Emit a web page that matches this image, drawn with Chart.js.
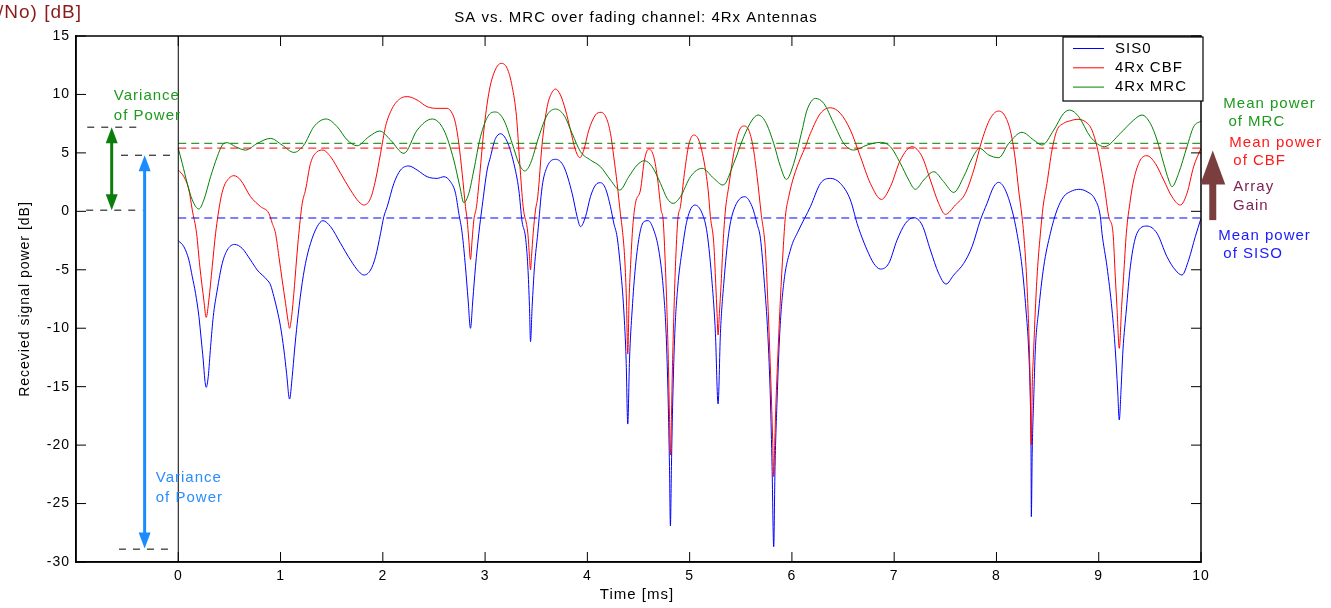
<!DOCTYPE html>
<html>
<head>
<meta charset="utf-8">
<script src="https://cdn.jsdelivr.net/npm/chart.js@4.4.1/dist/chart.umd.min.js"></script>
<style>
    html, body { margin: 0; padding: 0; background: #fff; }
</style>
</head>
<body>
<canvas id="myChart" width="1331" height="608"></canvas>
<script>
"use strict";

const FONT = '"Liberation Sans", Arial, Helvetica, sans-serif'

// [time ms, power dB]
const sisoPoints = [
    [0, -2.51], [0.055, -3.03], [0.104, -4.17], [0.137, -5.59], [0.169, -7.02], [0.202, -9.01], [0.225, -11.01],
    [0.244, -12.72], [0.26, -14.43], [0.273, -15.06], [0.293, -14.15], [0.316, -11.58], [0.342, -9.01], [0.381, -6.73],
    [0.43, -4.45], [0.479, -3.31], [0.55, -2.83], [0.625, -3.17], [0.707, -4.17], [0.772, -5.02], [0.87, -5.88],
    [0.902, -6.3], [0.935, -7.3], [0.967, -8.44], [1.0, -9.87], [1.033, -11.86], [1.059, -13.86], [1.088, -16.06],
    [1.114, -14.15], [1.137, -11.86], [1.163, -9.58], [1.202, -6.73], [1.244, -4.45], [1.293, -2.74], [1.358, -1.31],
    [1.414, -0.8], [1.489, -1.31], [1.587, -2.74], [1.684, -4.17], [1.766, -5.16], [1.815, -5.45], [1.88, -5.02],
    [1.929, -3.88], [1.978, -1.88], [2.01, -0.46], [2.043, 0.4], [2.108, 2.39], [2.173, 3.53], [2.254, 3.88],
    [2.336, 3.53], [2.434, 2.96], [2.531, 2.82], [2.597, 2.96], [2.662, 2.53], [2.711, 1.54], [2.743, -0.17],
    [2.776, -1.88], [2.808, -4.74], [2.834, -7.59], [2.857, -10.01], [2.88, -7.59], [2.906, -4.74], [2.939, -1.88],
    [2.971, 0.4], [3.02, 3.53], [3.053, 4.67], [3.085, 5.81], [3.102, 6.24], [3.15, 6.64], [3.216, 5.96],
    [3.281, 4.1], [3.33, 1.82], [3.362, -0.9], [3.395, -2.2], [3.418, -4.74], [3.434, -8.16], [3.444, -11.15],
    [3.46, -8.16], [3.483, -4.74], [3.515, -1.88], [3.558, 2.11], [3.607, 3.82], [3.688, 4.45], [3.77, 3.82],
    [3.851, 1.54], [3.9, -0.46], [3.933, -1.31], [3.982, -0.46], [4.03, 1.25], [4.08, 2.25], [4.128, 2.45],
    [4.177, 1.96], [4.226, 0.4], [4.258, -1.0], [4.291, -2.2], [4.323, -4.74], [4.356, -8.44], [4.379, -12.72],
    [4.395, -18.2], [4.412, -12.72], [4.438, -8.44], [4.47, -4.74], [4.513, -1.88], [4.552, -0.89], [4.594, -0.8],
    [4.649, -1.6], [4.698, -3.31], [4.741, -6.45], [4.77, -10.44], [4.79, -16.14], [4.803, -21.84], [4.812, -26.92],
    [4.822, -21.84], [4.835, -16.14], [4.855, -10.44], [4.884, -6.45], [4.927, -3.31], [4.975, -0.74], [5.05, 0.54],
    [5.122, -0.17], [5.171, -1.88], [5.22, -6.16], [5.252, -10.44], [5.278, -16.48], [5.301, -10.44], [5.334, -6.16],
    [5.382, -1.88], [5.431, 0.11], [5.539, 1.25], [5.611, 0.4], [5.66, -1.1], [5.692, -2.3], [5.731, -6.16],
    [5.764, -10.44], [5.79, -16.14], [5.806, -21.84], [5.822, -28.69], [5.835, -21.84], [5.855, -16.14], [5.881, -10.44],
    [5.92, -6.16], [5.985, -3.31], [6.067, -1.6], [6.181, 0.4], [6.279, 2.39], [6.376, 2.82], [6.474, 2.39],
    [6.572, 0.97], [6.637, -1.03], [6.67, -1.88], [6.735, -3.31], [6.8, -4.45], [6.865, -4.94], [6.947, -4.45],
    [7.028, -2.46], [7.11, -1.03], [7.191, -0.54], [7.273, -1.17], [7.354, -3.31], [7.435, -5.31], [7.507, -6.22],
    [7.582, -5.45], [7.68, -4.45], [7.761, -3.03], [7.843, -0.74], [7.908, 0.68], [7.973, 2.11], [8.022, 2.48],
    [8.087, 1.82], [8.152, 0.11], [8.201, -1.88], [8.25, -4.74], [8.289, -8.44], [8.315, -11.86], [8.331, -16.14],
    [8.338, -20.42], [8.341, -26.12], [8.35, -20.42], [8.364, -16.14], [8.38, -11.86], [8.413, -8.44], [8.462, -4.74],
    [8.527, -1.88], [8.592, 0.11], [8.657, 1.25], [8.722, 1.68], [8.804, 1.88], [8.885, 1.68], [8.967, 0.97],
    [9.016, -0.46], [9.032, -1.88], [9.081, -4.74], [9.13, -8.44], [9.162, -11.86], [9.185, -15.29], [9.201, -17.85],
    [9.218, -15.29], [9.237, -11.86], [9.27, -8.44], [9.309, -4.74], [9.374, -1.88], [9.472, -1.26], [9.57, -1.88],
    [9.667, -3.88], [9.749, -5.02], [9.814, -5.45], [9.879, -4.17], [9.944, -2.17], [10, -0.6]
]

const cbfPoints = [
    [0, 3.53], [0.055, 2.96], [0.104, 1.82], [0.137, 0.11], [0.179, -1.88], [0.211, -4.74], [0.25, -7.59],
    [0.273, -9.07], [0.299, -7.59], [0.332, -4.74], [0.365, -1.88], [0.413, 0.97], [0.446, 2.11], [0.495, 2.82],
    [0.544, 3.05], [0.609, 2.68], [0.707, 1.25], [0.805, 0.4], [0.886, -0.17], [0.919, -1.03], [0.951, -1.88],
    [0.984, -3.88], [1.016, -5.88], [1.049, -7.87], [1.072, -9.3], [1.088, -10.01], [1.104, -9.3], [1.13, -7.02],
    [1.156, -4.17], [1.179, -1.88], [1.212, 0.68], [1.244, 1.82], [1.293, 4.1], [1.358, 5.1], [1.414, 5.24],
    [1.489, 4.67], [1.587, 3.25], [1.684, 1.82], [1.766, 0.82], [1.815, 0.54], [1.88, 1.11], [1.929, 2.68],
    [1.978, 4.96], [2.026, 7.24], [2.092, 8.81], [2.173, 9.66], [2.245, 9.81], [2.336, 9.52], [2.434, 8.95],
    [2.531, 8.81], [2.629, 8.81], [2.678, 8.38], [2.711, 7.53], [2.743, 5.81], [2.776, 3.25], [2.808, 0.4],
    [2.825, -0.74], [2.841, -2.46], [2.857, -4.11], [2.873, -2.46], [2.89, -0.74], [2.916, 0.4], [2.949, 3.25],
    [2.988, 6.95], [3.036, 10.09], [3.085, 11.8], [3.157, 12.66], [3.216, 12.23], [3.265, 10.66], [3.307, 8.1],
    [3.339, 4.1], [3.372, 0.4], [3.418, -1.88], [3.434, -3.88], [3.444, -5.02], [3.454, -3.88], [3.47, -1.88],
    [3.493, 0.11], [3.515, 1.25], [3.558, 5.81], [3.607, 8.95], [3.649, 10.09], [3.688, 10.46], [3.737, 9.95],
    [3.786, 8.67], [3.835, 6.95], [3.884, 5.24], [3.926, 4.59], [3.965, 5.24], [4.014, 6.95], [4.079, 8.24],
    [4.135, 8.47], [4.187, 7.95], [4.226, 6.67], [4.258, 4.67], [4.291, 2.39], [4.323, -0.2], [4.345, -1.8],
    [4.366, -4.17], [4.382, -7.59], [4.395, -12.21], [4.408, -7.59], [4.425, -4.17], [4.444, -1.31], [4.47, 0.68],
    [4.519, 1.82], [4.558, 4.39], [4.6, 5.33], [4.649, 4.67], [4.688, 2.68], [4.721, 0.11], [4.741, -0.74],
    [4.763, -4.74], [4.78, -9.01], [4.793, -13.29], [4.803, -17.57], [4.812, -20.85], [4.822, -17.57], [4.832, -13.29],
    [4.845, -9.01], [4.861, -4.74], [4.884, -0.74], [4.91, 0.4], [4.949, 3.25], [4.991, 5.67], [5.04, 6.53],
    [5.089, 6.1], [5.138, 4.39], [5.181, 1.82], [5.203, -0.46], [5.236, -2.74], [5.255, -6.16], [5.268, -8.73],
    [5.278, -10.58], [5.291, -8.73], [5.308, -6.16], [5.327, -2.74], [5.35, 0.11], [5.382, 2.11], [5.431, 4.96],
    [5.48, 6.81], [5.529, 7.3], [5.578, 6.95], [5.62, 5.53], [5.66, 2.96], [5.699, -0.17], [5.741, -3.31],
    [5.764, -7.59], [5.783, -11.86], [5.8, -16.14], [5.813, -19.85], [5.822, -22.7], [5.832, -19.85], [5.845, -16.14],
    [5.865, -11.86], [5.887, -7.59], [5.914, -3.31], [5.936, -0.46], [5.969, 1.25], [6.018, 2.96], [6.083, 4.53],
    [6.132, 5.53], [6.181, 6.67], [6.279, 8.38], [6.376, 8.86], [6.474, 8.38], [6.572, 6.95], [6.67, 4.67],
    [6.767, 2.39], [6.875, 1.02], [6.963, 2.11], [7.061, 4.39], [7.175, 5.53], [7.273, 4.67], [7.354, 2.68],
    [7.435, 0.68], [7.5, -0.26], [7.598, 0.54], [7.696, 1.54], [7.778, 3.53], [7.859, 6.1], [7.94, 7.95],
    [8.022, 8.58], [8.087, 8.1], [8.142, 6.67], [8.185, 4.39], [8.217, 1.82], [8.25, -0.46], [8.266, -1.88],
    [8.289, -4.74], [8.309, -8.44], [8.322, -11.86], [8.331, -15.0], [8.341, -19.99], [8.35, -15.0], [8.364, -11.86],
    [8.38, -8.44], [8.403, -4.74], [8.43, -1.88], [8.456, 0.4], [8.494, 2.39], [8.543, 5.24], [8.592, 6.95],
    [8.657, 7.53], [8.722, 7.75], [8.787, 7.87], [8.869, 7.67], [8.934, 6.95], [8.983, 5.53], [9.016, 4.1],
    [9.055, 2.11], [9.098, -0.46], [9.14, -1.88], [9.162, -5.59], [9.178, -8.16], [9.201, -11.72], [9.224, -8.16],
    [9.243, -5.59], [9.27, -1.88], [9.309, 0.97], [9.342, 2.68], [9.407, 4.39], [9.472, 4.76], [9.553, 4.1],
    [9.635, 2.68], [9.716, 1.25], [9.798, 0.54], [9.863, 1.54], [9.928, 3.82], [10, 5.39]
]

const mrcPoints = [
    [0, 5.39], [0.039, 4.1], [0.088, 2.39], [0.137, 0.97], [0.202, 0.2], [0.25, 0.97], [0.316, 2.96],
    [0.381, 4.67], [0.43, 5.67], [0.479, 5.87], [0.56, 5.53], [0.658, 5.24], [0.772, 5.81], [0.902, 6.24],
    [1.016, 5.67], [1.13, 5.04], [1.228, 5.67], [1.326, 7.24], [1.446, 7.9], [1.554, 7.24], [1.652, 6.1],
    [1.749, 5.61], [1.863, 6.38], [1.971, 6.87], [2.075, 6.1], [2.206, 4.96], [2.336, 6.95], [2.483, 7.9],
    [2.597, 6.95], [2.694, 4.39], [2.753, 2.11], [2.792, 0.74], [2.841, 1.54], [2.89, 3.53], [2.955, 6.38],
    [3.036, 8.24], [3.102, 8.5], [3.183, 7.81], [3.265, 5.81], [3.33, 4.1], [3.388, 3.45], [3.444, 4.1],
    [3.525, 6.38], [3.607, 8.24], [3.688, 8.75], [3.77, 8.24], [3.851, 6.67], [3.933, 5.1], [4.03, 4.39],
    [4.128, 3.82], [4.226, 2.68], [4.317, 1.82], [4.405, 2.96], [4.487, 3.96], [4.558, 4.33], [4.633, 3.82],
    [4.715, 2.39], [4.78, 1.11], [4.838, 0.68], [4.91, 1.25], [5.008, 2.96], [5.122, 3.68], [5.236, 2.82],
    [5.327, 2.25], [5.431, 4.1], [5.529, 6.38], [5.611, 7.81], [5.669, 8.24], [5.741, 7.67], [5.822, 5.81],
    [5.888, 3.82], [5.946, 2.73], [6.018, 4.1], [6.1, 6.95], [6.148, 8.67], [6.23, 9.66], [6.311, 9.24],
    [6.409, 7.53], [6.507, 5.81], [6.604, 5.24], [6.735, 5.67], [6.865, 5.9], [6.963, 5.53], [7.061, 4.1],
    [7.142, 2.68], [7.207, 1.88], [7.289, 2.68], [7.387, 3.39], [7.484, 2.53], [7.582, 1.62], [7.68, 2.96],
    [7.761, 4.53], [7.836, 5.39], [7.924, 4.82], [8.022, 4.59], [8.12, 5.81], [8.25, 6.76], [8.364, 6.1],
    [8.446, 5.67], [8.56, 6.95], [8.657, 8.38], [8.716, 8.66], [8.804, 8.1], [8.918, 6.38], [9.055, 5.53],
    [9.211, 6.67], [9.342, 7.81], [9.423, 8.24], [9.504, 7.53], [9.57, 6.1], [9.635, 4.1], [9.684, 2.68],
    [9.716, 2.11], [9.781, 3.25], [9.863, 5.53], [9.928, 7.24], [10, 7.72]
]

const seriesNames = ['SIS0', '4Rx CBF', '4Rx MRC']
const seriesColors = ['#0000ff', '#ff0000', '#008000']
const meanLevels = [-0.57, 5.41, 5.82]
const timeRange = [0, 10]
const xTicks = [0, 1, 2, 3, 4, 5, 6, 7, 8, 9, 10]
const yTicks = [-30, -25, -20, -15, -10, -5, 0, 5, 10, 15]

// annotation anchors, in data units (time ms, dB)
const guideDashes = [[-0.89, -0.39, 7.2], [-0.9, -0.35, 0.1], [-0.56, -0.03, 4.8], [-0.58, -0.05, -28.9]]
const varianceArrows = [
    { t: -0.651, low: 0.1, high: 7.2, color: '#0b7d0b' },
    { t: -0.329, low: -28.85, high: 4.8, color: '#1a8cff' }
]
const leftNotes = [
    [-0.63, 9.86, 'Variance', '#1e9a1e'], [-0.63, 8.15, 'of Power', '#1e9a1e'],
    [-0.22, -22.79, 'Variance', '#2a8cff'], [-0.22, -24.5, 'of Power', '#2a8cff']
]
const rightNotes = [
    [10.218, 9.17, 'Mean power', '#1e9a1e'], [10.268, 7.64, 'of MRC', '#1e9a1e'],
    [10.277, 5.87, 'Mean power', '#ff1a1a'], [10.316, 4.3, 'of CBF', '#ff1a1a'],
    [10.316, 2.1, 'Array', '#7d2356'], [10.313, 0.45, 'Gain', '#7d2356'],
    [10.169, -2.09, 'Mean power', '#1a1aff'], [10.218, -3.65, 'of SISO', '#1a1aff']
]
const gainArrow = { t: 10.115, low: -0.75, high: 5.2, color: '#7a3e3e' }

const toXY = points => points.map(([x, y]) => ({ x, y }))

const curveSet = (points, i) => ({
    label: seriesNames[i],
    data: toXY(points),
    borderColor: seriesColors[i],
    borderWidth: 1,
    cubicInterpolationMode: 'monotone',
    order: 10 - i
})

const meanSet = i => ({
    label: 'mean ' + seriesNames[i],
    data: timeRange.map(x => ({ x, y: meanLevels[i] })),
    borderColor: seriesColors[i],
    borderWidth: 1,
    borderDash: [8, 5],
    order: 5 - i
})

const spacing = (ctx, px) => { if ('letterSpacing' in ctx) ctx.letterSpacing = px + 'px' }

const text = (ctx, str, x, y, size, color, align) => {
    ctx.save()
    ctx.font = size + 'px ' + FONT
    spacing(ctx, 1)
    ctx.fillStyle = color
    ctx.textAlign = align || 'left'
    ctx.textBaseline = 'middle'
    ctx.fillText(str, x, y)
    ctx.restore()
}

const head = (ctx, x, tip, dir, len, half) => {
    ctx.beginPath()
    ctx.moveTo(x, tip)
    ctx.lineTo(x - half, tip - dir * len)
    ctx.lineTo(x + half, tip - dir * len)
    ctx.closePath()
    ctx.fill()
}

const annotations = {
    id: 'annotations',
    beforeDraw: chart => spacing(chart.ctx, 1),
    afterDraw: chart => {
        const ctx = chart.ctx
        const { x: xs, y: ys } = chart.scales
        const area = chart.chartArea
        const X = v => xs.getPixelForValue(v)
        const Y = v => ys.getPixelForValue(v)

        // box and inward ticks
        ctx.save()
        ctx.strokeStyle = '#000'
        ctx.lineWidth = 1.5
        ctx.strokeRect(area.left, area.top, area.right - area.left, area.bottom - area.top)
        ctx.lineWidth = 1
        ctx.beginPath()
        xTicks.forEach(v => {
            ctx.moveTo(X(v), area.bottom); ctx.lineTo(X(v), area.bottom - 10)
            ctx.moveTo(X(v), area.top); ctx.lineTo(X(v), area.top + 10)
        })
        yTicks.forEach(v => {
            ctx.moveTo(area.left, Y(v)); ctx.lineTo(area.left + 10, Y(v))
            ctx.moveTo(area.right, Y(v)); ctx.lineTo(area.right - 10, Y(v))
        })
        ctx.stroke()

        // short guide dashes on the left
        ctx.setLineDash([7, 7])
        ctx.beginPath()
        guideDashes.forEach(([a, b, v]) => { ctx.moveTo(X(a), Y(v)); ctx.lineTo(X(b), Y(v)) })
        ctx.stroke()
        ctx.setLineDash([])

        varianceArrows.forEach(({ t, low, high, color }) => {
            ctx.strokeStyle = color
            ctx.fillStyle = color
            ctx.lineWidth = 3
            ctx.beginPath()
            ctx.moveTo(X(t), Y(high) + 6)
            ctx.lineTo(X(t), Y(low) - 6)
            ctx.stroke()
            head(ctx, X(t), Y(high), -1, 16, 6)
            head(ctx, X(t), Y(low), 1, 16, 6)
        })

        // array gain arrow
        ctx.fillStyle = gainArrow.color
        const gx = X(gainArrow.t)
        ctx.fillRect(gx - 3.5, Y(gainArrow.high) + 30, 7, Y(gainArrow.low) - Y(gainArrow.high) - 30)
        head(ctx, gx, Y(gainArrow.high), -1, 34, 12.5)
        ctx.restore()

        leftNotes.forEach(([t, v, str, color]) => text(ctx, str, X(t), Y(v), 15, color))
        rightNotes.forEach(([t, v, str, color]) => text(ctx, str, X(t), Y(v), 15, color))

        // legend
        const lx = area.right - 138, ly = area.top + 1
        ctx.save()
        ctx.fillStyle = '#fff'
        ctx.fillRect(lx, ly, 140, 64)
        ctx.strokeStyle = '#000'
        ctx.lineWidth = 1.2
        ctx.strokeRect(lx, ly, 140, 64)
        seriesNames.forEach((name, i) => {
            const rowY = ly + 11.5 + i * 19.3
            ctx.strokeStyle = seriesColors[i]
            ctx.lineWidth = 1
            ctx.beginPath()
            ctx.moveTo(lx + 10, rowY)
            ctx.lineTo(lx + 41, rowY)
            ctx.stroke()
            text(ctx, name, lx + 52, rowY, 15, '#000')
        })
        ctx.restore()

        // titles
        text(ctx, 'SA vs. MRC over fading channel: 4Rx Antennas', 636, 18, 15, '#000', 'center')
        text(ctx, 'Time [ms]', 637, 595, 15, '#000', 'center')
        ctx.save()
        ctx.translate(25, (area.top + area.bottom) / 2)
        ctx.rotate(-Math.PI / 2)
        text(ctx, 'Recevied signal power [dB]', 0, 0, 14, '#000', 'center')
        ctx.restore()
        text(ctx, '/No) [dB]', -2, 13, 19, '#8b1a1a')
    }
}

const datasets = [
    curveSet(sisoPoints, 0),
    curveSet(cbfPoints, 1),
    curveSet(mrcPoints, 2),
    meanSet(0), meanSet(1), meanSet(2),
    { label: 'origin', data: [{ x: 0, y: -30 }, { x: 0, y: 15 }], borderColor: '#000', borderWidth: 1, order: 0 }
]

const tickFont = { family: FONT, size: 14 }

new Chart('myChart', {
    type: 'line',
    data: { datasets },
    options: {
        responsive: false,
        animation: false,
        events: [],
        layout: { padding: { top: 36, right: 130, left: 0, bottom: 0 } },
        elements: { point: { radius: 0 } },
        plugins: { legend: { display: false }, tooltip: { enabled: false } },
        scales: {
            x: {
                type: 'linear',
                min: -1,
                max: 10,
                afterFit: scale => { scale.height = 46 },
                afterBuildTicks: scale => { scale.ticks = xTicks.map(value => ({ value })) },
                grid: { display: false, drawTicks: false },
                border: { display: true, color: '#000', width: 1.5 },
                ticks: { padding: 6, color: '#000', font: tickFont, maxRotation: 0, autoSkip: false }
            },
            y: {
                type: 'linear',
                min: -30,
                max: 15,
                afterFit: scale => { scale.width = 76 },
                afterBuildTicks: scale => { scale.ticks = yTicks.map(value => ({ value })) },
                grid: { display: false, drawTicks: false },
                border: { display: true, color: '#000', width: 1.5 },
                ticks: { padding: 6, color: '#000', font: tickFont, autoSkip: false }
            }
        }
    },
    plugins: [annotations]
})
</script>
</body>
</html>
